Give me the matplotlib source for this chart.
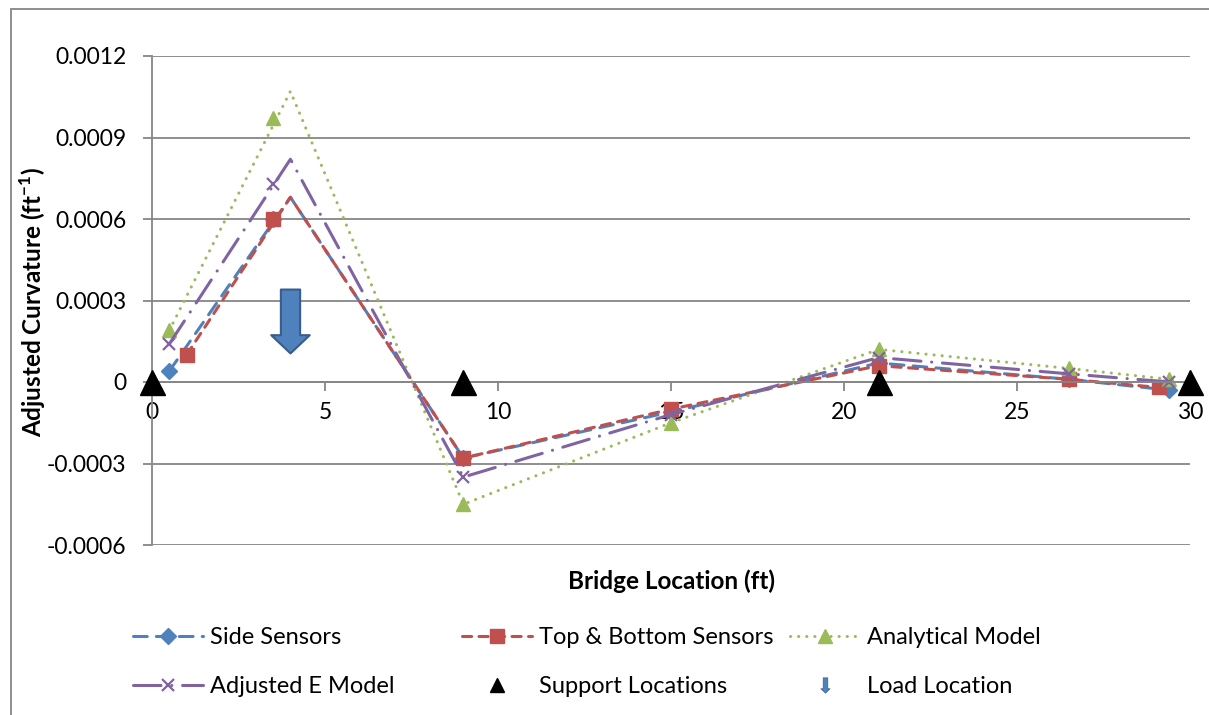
import numpy as np
import matplotlib.pyplot as plt
from matplotlib.lines import Line2D
from matplotlib.path import Path
from matplotlib.patches import Rectangle

plt.rcParams['font.family'] = ['Lato', 'DejaVu Sans']
plt.rcParams['mathtext.fontset'] = 'custom'
plt.rcParams['mathtext.rm'] = 'Lato'
plt.rcParams['mathtext.bf'] = 'Lato:bold'

# curvature readings (ft^-1) at each sensor station (ft)
side_x = [0.5, 3.5, 9, 15, 21, 26.5, 29.4]
side_y = [0.00004, 0.0006, -0.00028, -0.00011, 0.00007, 0.00001, -0.00003]
top_x = [1.0, 3.5, 9, 15, 21, 26.5, 29.1]
top_y = [0.0001, 0.0006, -0.00028, -0.0001, 0.00006, 0.00001, -0.00002]
ana_x = [0.5, 3.5, 9, 15, 21, 26.5, 29.4]
ana_y = [0.00019, 0.00097, -0.00045, -0.00015, 0.00012, 0.00005, 0.00001]
adj_x = [0.5, 3.5, 9, 15, 21, 26.5, 29.4]
adj_y = [0.00014, 0.00073, -0.00035, -0.00012, 0.00009, 0.00003, 0.0]

# lines run through the load point instead of the 3.5 ft station
peak_x = 4.0
side_peak = 0.00068
top_peak = 0.00068
ana_peak = 0.00107
adj_peak = 0.00082

support_x = [0, 9, 21, 30]
support_y = [0, 0, 0, 0]
load_x = [4.0]
load_y = [0.000226]

xticks = [0, 5, 10, 15, 20, 25, 30]
yticks = [-0.0006, -0.0003, 0, 0.0003, 0.0006, 0.0009, 0.0012]
ytick_labels = ['-0.0006', '-0.0003', '0', '0.0003', '0.0006', '0.0009', '0.0012']

BLUE = '#4F81BD'
RED = '#C0504D'
GREEN = '#9BBB59'
PURPLE = '#8064A2'
GRID = '#868686'

# block arrow shape for the load marker
arrow = Path([(-9.5, 31.5), (9.5, 31.5), (9.5, -13.5), (19, -13.5), (0, -31.5),
              (-19, -13.5), (-9.5, -13.5), (-9.5, 31.5)], closed=True)


def line_xy(xs, ys, peak):
    lx = [xs[0], peak_x] + list(xs[2:])
    ly = [ys[0], peak] + list(ys[2:])
    return lx, ly


fig = plt.figure(figsize=(12.09, 7.15), dpi=100)
ax = fig.add_axes([152 / 1209, 1 - 545 / 715, 1038 / 1209, 489 / 715])

series = [
    (side_x, side_y, side_peak, BLUE, (0, (4.5, 3)), 'D', 8, 'Side Sensors'),
    (top_x, top_y, top_peak, RED, (0, (3, 2.4)), 's', 10, 'Top & Bottom Sensors'),
    (ana_x, ana_y, ana_peak, GREEN, (0, (0.05, 2.6)), '^', 10, 'Analytical Model'),
    (adj_x, adj_y, adj_peak, PURPLE, (0, (9, 3.5, 0.05, 3.5)), 'x', 9, 'Adjusted E Model'),
]

handles = []
for xs, ys, pk, col, ls, mk, ms, name in series:
    lx, ly = line_xy(xs, ys, pk)
    ax.plot(lx, ly, color=col, lw=2.2, linestyle=ls, dash_capstyle='round',
            solid_capstyle='round', clip_on=False)
    ax.plot(xs, ys, linestyle='none', marker=mk, markersize=ms, color=col,
            markeredgewidth=1.6 if mk == 'x' else 1, clip_on=False)
    handles.append(Line2D([], [], color=col, lw=2.2, linestyle=ls, dash_capstyle='round',
                          marker=mk, markersize=ms, markeredgewidth=1.6 if mk == 'x' else 1,
                          label=name))

ax.plot(support_x, support_y, linestyle='none', marker='^', markersize=18,
        color='black', clip_on=False, zorder=5)
ax.plot(load_x, load_y, linestyle='none', marker=arrow, markersize=46,
        markerfacecolor=BLUE, markeredgecolor='#385D8A', markeredgewidth=1.5, zorder=5)

handles.append(Line2D([], [], linestyle='none', marker='^', markersize=10,
                      color='black', label='Support Locations'))
handles.append(Line2D([], [], linestyle='none', marker=arrow, markersize=11,
                      markerfacecolor=BLUE, markeredgecolor='#385D8A',
                      markeredgewidth=0.5, label='Load Location'))

ax.set_xlim(0, 30)
ax.set_ylim(-0.0006, 0.0012)
ax.set_xticks(xticks)
ax.set_yticks(yticks)
ax.set_yticklabels(ytick_labels)
ax.yaxis.grid(True, color=GRID, lw=1.3)
ax.set_axisbelow(True)

for s in ['top', 'right']:
    ax.spines[s].set_visible(False)
ax.spines['bottom'].set_position(('data', 0))
ax.spines['bottom'].set_color(GRID)
ax.spines['bottom'].set_linewidth(1.3)
ax.spines['left'].set_color(GRID)
ax.spines['left'].set_linewidth(1.3)
ax.tick_params(axis='both', direction='out', color=GRID, width=1.3, length=6.5,
               labelsize=16.5)
ax.tick_params(axis='y', pad=12)
ax.tick_params(axis='x', pad=8)

fig.text(671 / 1209, 1 - 581 / 715, 'Bridge Location (ft)', ha='center', va='center',
         fontsize=17.5, fontweight='bold')
fig.text(33 / 1209, 1 - 302 / 715, r'Adjusted Curvature (ft$^{\mathbf{-1}}$)', ha='center',
         va='center', rotation=90, fontsize=17.5, fontweight='bold')

# legend laid out as three columns of two entries
col_x = [133, 462, 790]
cols = [[handles[0], handles[3]], [handles[1], handles[4]], [handles[2], handles[5]]]
for cx, hs in zip(col_x, cols):
    fig.legend(handles=hs, loc='upper left', bbox_to_anchor=(cx / 1209, 1 - 627 / 715),
               frameon=False, fontsize=17, handlelength=2.95, handletextpad=0.3,
               borderpad=0, borderaxespad=0, labelspacing=1.2)

fig.add_artist(Rectangle((11 / 1209, -0.05), 1.2, 1 - 9 / 715 + 0.05,
                         transform=fig.transFigure, fill=False, edgecolor=GRID, lw=1.3))

fig.savefig('out.png', dpi=100)
